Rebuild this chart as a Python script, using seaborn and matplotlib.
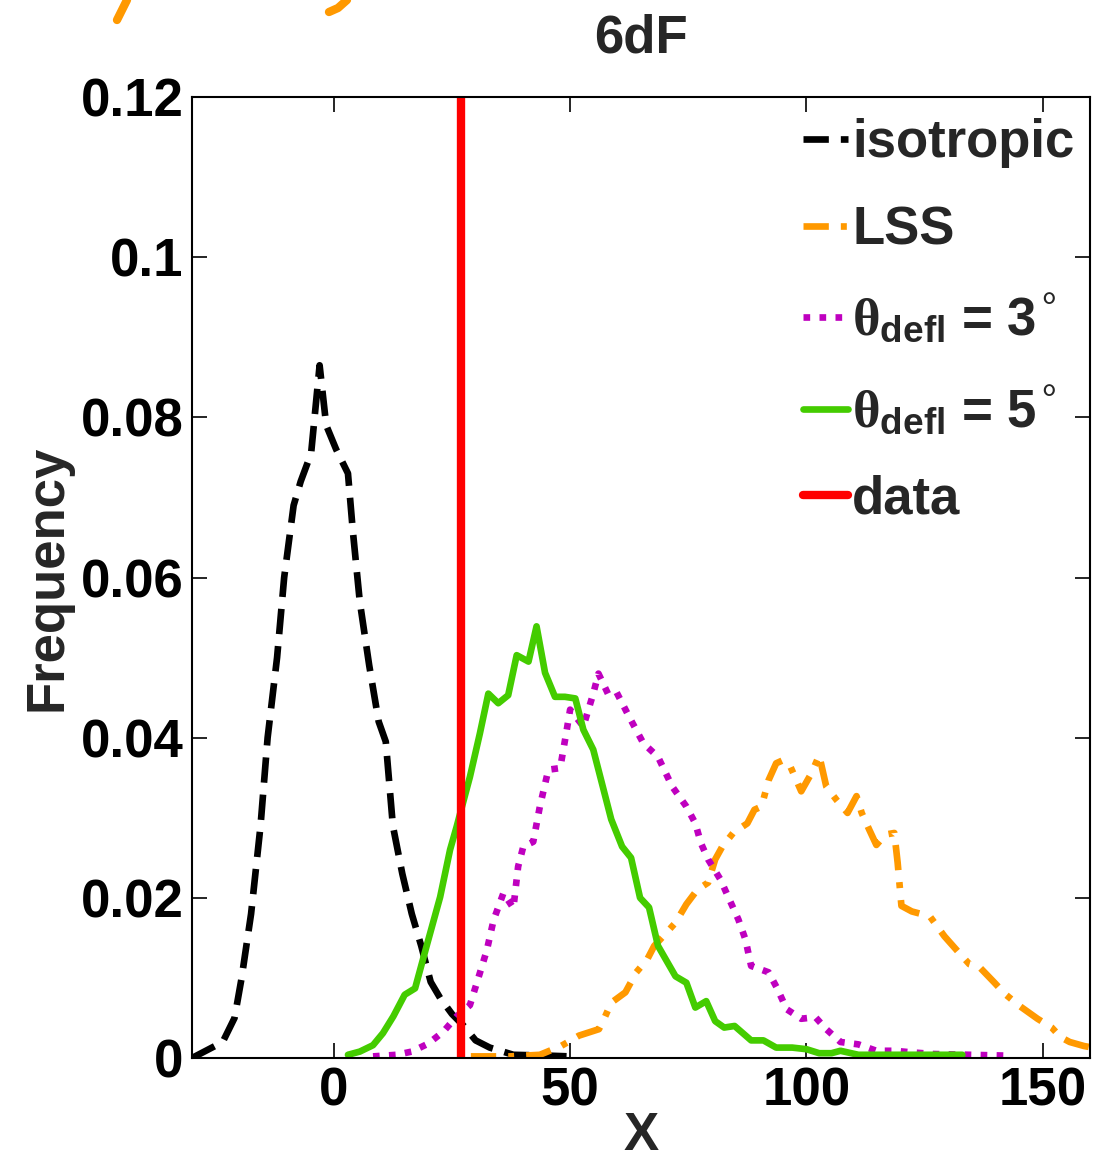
import numpy as np
import pandas as pd
import matplotlib
matplotlib.use("Agg")
import matplotlib.pyplot as plt
import seaborn as sns
from matplotlib.lines import Line2D

# ---------------- data ----------------
iso_x = [-30, -23.5, -21, -19.5, -17.5, -15.5, -14, -12, -10.5, -8.5, -7, -4.8, -3, -1.6, 0.5, 3, 4,
         5.5, 7.5, 9.5, 11, 12.5, 14.5, 16.5, 18.5, 20.5, 22.5, 25, 27.5, 30, 33, 38, 45, 50]
iso_y = [0, 0.0020, 0.0050, 0.0100, 0.0180, 0.0290, 0.0400, 0.0500, 0.0600, 0.0690, 0.0720, 0.0755,
         0.0865, 0.0790, 0.0760, 0.0730, 0.0660, 0.0570, 0.0490, 0.0420, 0.0395, 0.0290, 0.0230,
         0.0180, 0.0140, 0.0095, 0.0075, 0.0055, 0.0040, 0.0022, 0.0013, 0.0004, 0.0003, 0.0002]

lss_x = [29, 37.3, 43.6, 48.1, 51.9, 56.1, 57.2, 58.7, 61.7, 64.0, 66.3, 67.8, 69.7, 72.3, 74.6, 76.9,
         79.2, 80.7, 82.2, 84.5, 87.5, 89.0, 90.5, 92.0, 93.6, 95.1, 96.6, 98.9, 101.1, 102.7, 104.2,
         106.4, 108.7, 110.6, 111.7, 113.3, 114.8, 116.7, 118.6, 119.3, 120.1, 122.3, 126.1, 129.2,
         132.2, 134.5, 136.7, 139.8, 142.0, 145.1, 148.9, 151.9, 153.8, 155.7, 158.7, 160.5]
lss_y = [0.0002, 0.0002, 0.0004, 0.0015, 0.0028, 0.0036, 0.0049, 0.0069, 0.0082, 0.0107, 0.0123,
         0.0140, 0.0152, 0.0169, 0.0192, 0.0210, 0.0219, 0.0248, 0.0264, 0.0281, 0.0293, 0.0310,
         0.0314, 0.0347, 0.0368, 0.0372, 0.0364, 0.0333, 0.0356, 0.0378, 0.0339, 0.0322, 0.0306,
         0.0327, 0.0306, 0.0285, 0.0266, 0.0279, 0.0281, 0.0244, 0.0190, 0.0183, 0.0177, 0.0152,
         0.0132, 0.0117, 0.0113, 0.0094, 0.0080, 0.0065, 0.0049, 0.0038, 0.0026, 0.0020, 0.0015, 0.0013]

d3_x = [8.3, 13.3, 16.5, 20.0, 23.2, 26.0, 28.8, 30.9, 32.4, 33.8, 35.9, 38.0, 39.0, 40.1, 42.2, 43.6,
        45.4, 47.9, 49.3, 50.0, 52.8, 54.9, 56.0, 58.0, 59.8, 62.5, 65.5, 68.6, 71.6, 74.6, 76.5, 77.7,
        79.2, 81.8, 83.7, 85.6, 87.1, 88.3, 92.0, 93.9, 95.8, 98.9, 101.9, 104.2, 107.2, 111.0, 114.8,
        118.6, 122.3, 126.9, 134.5, 142.0]
d3_y = [0.0002, 0.0004, 0.0008, 0.0018, 0.0033, 0.0052, 0.0066, 0.0106, 0.0135, 0.0172, 0.0206, 0.0187,
        0.0239, 0.0264, 0.0270, 0.0314, 0.0360, 0.0362, 0.0410, 0.0435, 0.0414, 0.0455, 0.0480, 0.0455,
        0.0457, 0.0426, 0.0393, 0.0376, 0.0339, 0.0314, 0.0293, 0.0268, 0.0248, 0.0223, 0.0198, 0.0173,
        0.0148, 0.0115, 0.0107, 0.0086, 0.0061, 0.0049, 0.0051, 0.0036, 0.0020, 0.0017, 0.0009, 0.0009,
        0.0007, 0.0005, 0.0004, 0.0003]

d5_x = [3.0, 5.5, 8.3, 10.4, 12.6, 15.0, 17.2, 19.6, 22.5, 24.6, 26.0, 28.8, 30.9, 32.7, 34.8, 36.9,
        38.7, 41.2, 42.9, 44.7, 46.8, 48.9, 51.1, 52.8, 54.9, 58.7, 61.0, 62.9, 64.8, 66.7, 68.6, 72.3,
        74.6, 76.5, 78.8, 80.7, 82.6, 84.8, 88.3, 90.9, 93.6, 97.0, 100.0, 102.7, 105.3, 107.2, 111.0,
        120.0, 133.0]
d5_y = [0.0004, 0.0008, 0.0016, 0.0031, 0.0052, 0.0079, 0.0087, 0.0139, 0.0201, 0.0260, 0.0289, 0.0351,
        0.0405, 0.0455, 0.0443, 0.0453, 0.0503, 0.0495, 0.0539, 0.0481, 0.0451, 0.0451, 0.0449, 0.0410,
        0.0385, 0.0298, 0.0264, 0.0250, 0.0200, 0.0188, 0.0140, 0.0102, 0.0094, 0.0063, 0.0071, 0.0046,
        0.0038, 0.0040, 0.0022, 0.0022, 0.0013, 0.0013, 0.0011, 0.0006, 0.0006, 0.0009, 0.0004, 0.0004,
        0.0004]

data_x = 27.0

x_ticks = [0, 50, 100, 150]
y_ticks = [0, 0.02, 0.04, 0.06, 0.08, 0.1, 0.12]
y_ticklabels = ["0", "0.02", "0.04", "0.06", "0.08", "0.1", "0.12"]

labels = ["isotropic", "LSS", r"$\mathrm{\theta}_{\mathbf{defl}}$ = 3$^{\,\mathrm{°}}$",
          r"$\mathrm{\theta}_{\mathbf{defl}}$ = 5$^{\,\mathrm{°}}$", "data"]

# ---------------- style ----------------
sns.set_style("ticks")
plt.rcParams["font.family"] = ["Liberation Sans", "DejaVu Sans"]
plt.rcParams["font.weight"] = "bold"
plt.rcParams["mathtext.fontset"] = "custom"
plt.rcParams["mathtext.rm"] = "Liberation Serif"
plt.rcParams["mathtext.it"] = "Liberation Serif:italic"
plt.rcParams["mathtext.bf"] = "Liberation Sans:bold"

FS = 38
C_ISO = "#000000"
C_LSS = "#FF9900"
C_D3 = "#BF00BF"
C_D5 = "#44CC00"
C_DATA = "#FF0000"
LW = 4.8

fig = plt.figure(figsize=(11.02, 11.62), dpi=100)
ax = fig.add_axes([192 / 1102, 1 - 1058 / 1162, (1090 - 192) / 1102, (1058 - 97) / 1162])

def draw(x, y, color, dashes, label):
    n_before = len(ax.lines)
    sns.lineplot(x=x, y=y, color=color, lw=LW, ax=ax, estimator=None, sort=False)
    ln = ax.lines[n_before]
    if dashes is not None:
        ln.set_dashes(dashes)
        ln.set_dash_capstyle("butt")
    ln.set_label(label)
    return ln

h1 = draw(iso_x, iso_y, C_ISO, (3.8, 1.8), labels[0])
h2 = draw(lss_x, lss_y, C_LSS, (3.8, 1.8, 0.9, 1.8), labels[1])
h3 = draw(d3_x, d3_y, C_D3, (1, 1.4), labels[2])
h4 = draw(d5_x, d5_y, C_D5, None, labels[3])
h5 = ax.axvline(data_x, color=C_DATA, lw=6.0, label=labels[4])

ax.set_xlim(-30, 160)
ax.set_ylim(0, 0.12)
ax.set_xticks(x_ticks)
ax.set_xticklabels([str(t) for t in x_ticks])
ax.set_yticks(y_ticks)
ax.set_yticklabels(y_ticklabels)
ax.tick_params(direction="in", length=11, width=1.2, top=True, right=True,
               labelsize=FS, pad=6, colors="black")
for lab in ax.get_xticklabels() + ax.get_yticklabels():
    lab.set_fontweight("bold")
for sp in ax.spines.values():
    sp.set_visible(True)
    sp.set_linewidth(1.5)
    sp.set_color("black")

ax.set_xlabel("X", fontsize=FS, fontweight="bold", labelpad=-4)
ax.set_ylabel("Frequency", fontsize=FS, fontweight="bold", labelpad=6)
ax.set_title("6dF", fontsize=38, fontweight="bold", pad=32)

leg = ax.legend(handles=[h1, h2, h3, h4, h5], loc="upper right", frameon=False,
                fontsize=FS, handlelength=0.85, handletextpad=0.08, labelspacing=0.7,
                borderaxespad=0.0, bbox_to_anchor=(1.006, 1.0))
for t in leg.get_texts():
    t.set_fontweight("bold")

# orange stroke fragments at the very top (cropped annotation)
fig.add_artist(Line2D([127 / 1102, 117 / 1102], [1 - 0 / 1162, 1 - 20 / 1162],
                      transform=fig.transFigure, color=C_LSS, lw=6, solid_capstyle="round"))
fig.add_artist(Line2D([347 / 1102, 338 / 1102, 329 / 1102], [1 - 0 / 1162, 1 - 8 / 1162, 1 - 12 / 1162],
                      transform=fig.transFigure, color=C_LSS, lw=6, solid_capstyle="round"))

fig.savefig("out.png", dpi=100)
